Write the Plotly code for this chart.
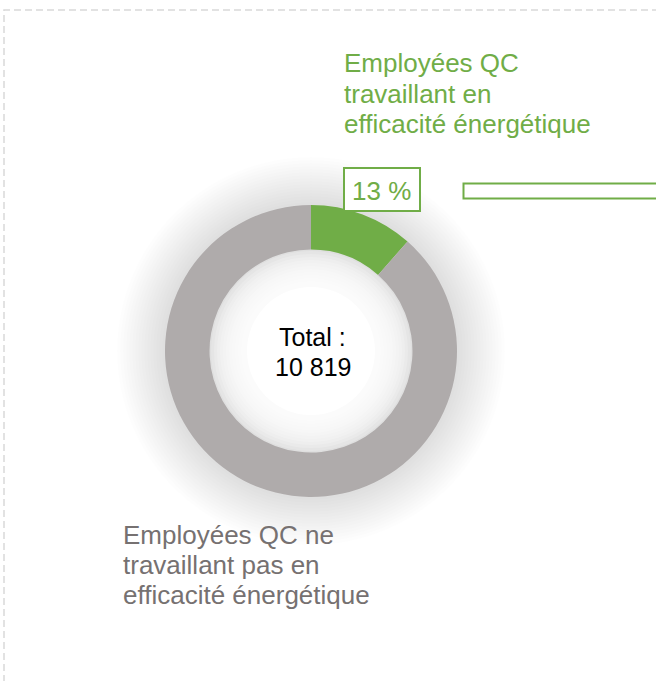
import plotly.graph_objects as go

W, H = 656, 681

# data
categories = ["Employées QC travaillant en efficacité énergétique",
              "Employées QC ne travaillant pas en efficacité énergétique"]
shares = [11.5, 88.5]          # arc sizes as drawn
pct_label = "13 %"
total_lines = ["Total :", "10 819"]
green_lines = ["Employées QC", "travaillant en", "efficacité énergétique"]
grey_lines = ["Employées QC ne", "travaillant pas en", "efficacité énergétique"]

GREEN = "#70AD47"
GREY = "#AFABAB"
TXT_GREY = "#767171"
FONT = "Arial, 'Liberation Sans', sans-serif"


def px(x):
    return x / W


def py(y):
    return 1 - y / H


cx, cy, R = 311, 351, 146

fig = go.Figure()
fig.add_trace(go.Pie(
    labels=categories,
    values=shares,
    hole=0.695,
    sort=False,
    direction="clockwise",
    rotation=0,
    marker=dict(colors=[GREEN, GREY], line=dict(width=0)),
    textinfo="none",
    hoverinfo="skip",
    showlegend=False,
    domain=dict(x=[px(cx - R), px(cx + R)], y=[py(cy + R), py(cy - R)]),
))

shapes = []


def circle(r, fill, layer="below"):
    return dict(type="circle", xref="paper", yref="paper",
                x0=px(cx - r), x1=px(cx + r), y0=py(cy + r), y1=py(cy - r),
                fillcolor=fill, line=dict(width=0), layer=layer)


# soft shadow around the ring
for i in range(16):
    shapes.append(circle(R + 48 - 3 * i, "rgba(0,0,0,0.0065)"))
for r in range(100, 66, -3):
    shapes.append(circle(r, "rgba(255,255,255,0.2)"))
shapes.append(circle(64, "white"))

# dashed frame
shapes.append(dict(type="rect", xref="paper", yref="paper",
                   x0=px(4), x1=px(720), y0=py(740), y1=py(10),
                   line=dict(color="#D9D9D9", width=1.5, dash="7px,4px"),
                   fillcolor="rgba(0,0,0,0)", layer="above"))
# percent label box
shapes.append(dict(type="rect", xref="paper", yref="paper",
                   x0=px(344), x1=px(420), y0=py(211), y1=py(168),
                   line=dict(color=GREEN, width=2), fillcolor="white", layer="above"))
# green bar outline
shapes.append(dict(type="rect", xref="paper", yref="paper",
                   x0=px(463.5), x1=px(720), y0=py(198.5), y1=py(183.5),
                   line=dict(color=GREEN, width=2), fillcolor="white", layer="above"))

annotations = []


def label(text, x, y, color, anchor="left", size=26):
    annotations.append(dict(text=text, x=px(x), y=py(y), xref="paper", yref="paper",
                            xanchor=anchor, yanchor="middle", showarrow=False,
                            font=dict(family=FONT, size=size, color=color)))


for i, t in enumerate(green_lines):
    label(t, 342, 63 + 30.5 * i, GREEN)
for i, t in enumerate(grey_lines):
    label(t, 121, 535 + 30 * i, TXT_GREY)
for i, t in enumerate(total_lines):
    label(t, 312.5, 337 + 30 * i, "black", anchor="center", size=25)
label(pct_label, 381.5, 191, GREEN, anchor="center")

fig.update_layout(
    width=W, height=H,
    margin=dict(l=0, r=0, t=0, b=0),
    paper_bgcolor="white",
    plot_bgcolor="white",
    shapes=shapes,
    annotations=annotations,
)

fig.write_html("out.html", config={"displayModeBar": False},
               post_script="document.body.style.margin='0';")
